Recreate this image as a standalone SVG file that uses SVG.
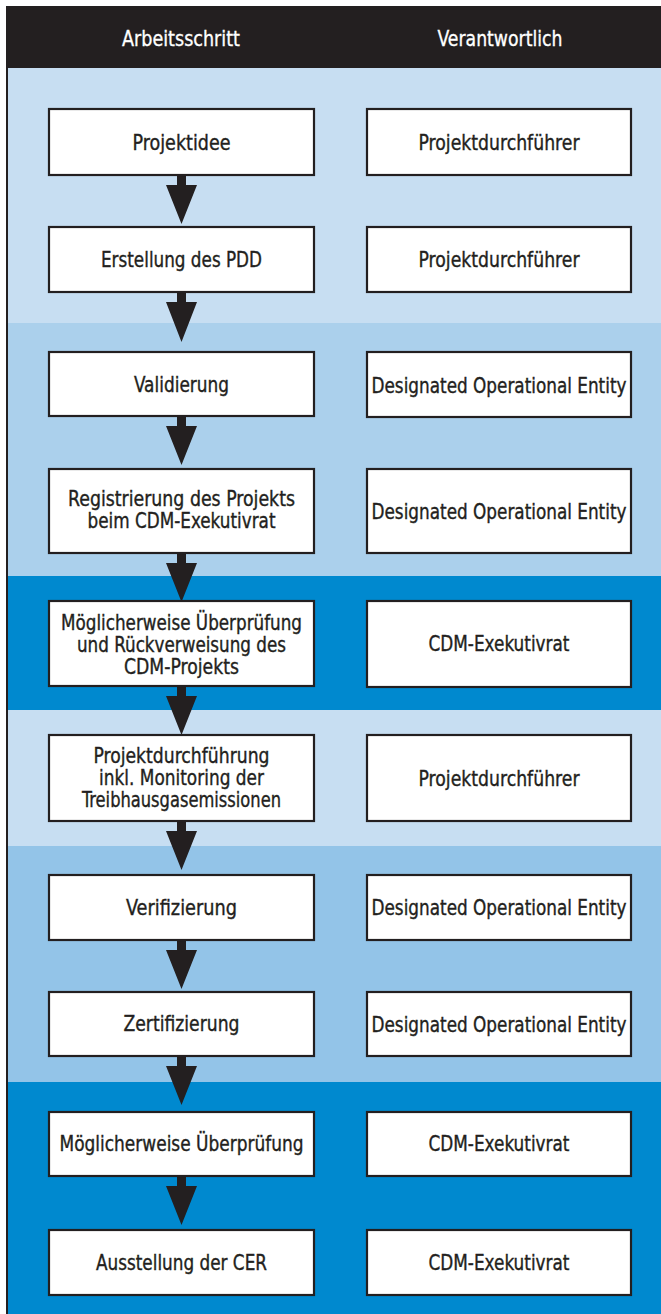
<svg xmlns="http://www.w3.org/2000/svg" width="661" height="1314" viewBox="0 0 661 1314">
  <style>
    .band-light { fill: #c7def2; }
    .band-mid { fill: #abd0ec; }
    .band-soft { fill: #93c4e8; }
    .band-dark { fill: #0089cf; }
    .box { fill: #ffffff; stroke: #231f20; stroke-width: 2.2; }
    .lbl { font-family: "Liberation Sans Narrow", "DejaVu Sans Condensed", "Liberation Sans", sans-serif; font-size: 20.5px; fill: #231f20; stroke: #231f20; stroke-width: 0.35; text-anchor: middle; }
    .head { font-family: "Liberation Sans Narrow", "DejaVu Sans Condensed", "Liberation Sans", sans-serif; font-size: 20.5px; fill: #ffffff; stroke: #ffffff; stroke-width: 0.3; text-anchor: middle; }
    .arrow { fill: #231f20; }
  </style>

  <rect x="0" y="0" width="661" height="1314" fill="#ffffff"/>

  <!-- background bands -->
  <g id="bands">
    <rect class="band-light" x="6" y="68" width="655" height="255"/>
    <rect class="band-mid" x="6" y="323" width="655" height="253"/>
    <rect class="band-dark" x="6" y="576" width="655" height="134"/>
    <rect class="band-light" x="6" y="710" width="655" height="136"/>
    <rect class="band-soft" x="6" y="846" width="655" height="236"/>
    <rect class="band-dark" x="6" y="1082" width="655" height="232"/>
    <rect x="6" y="6" width="2" height="1308" fill="#231f20"/>
  </g>

  <!-- column header -->
  <g id="header">
    <rect x="6" y="6" width="655" height="62" fill="#231f20"/>
    <text class="head" x="181" y="46" textLength="118" lengthAdjust="spacingAndGlyphs">Arbeitsschritt</text>
    <text class="head" x="500" y="46" textLength="125" lengthAdjust="spacingAndGlyphs">Verantwortlich</text>
  </g>

  <!-- flow arrows between the work steps -->
  <g id="connectors">
    <path class="arrow" d="M177,176 h9 v9 h11 l-15.5,39 l-15.5,-39 h11 z"/>
    <path class="arrow" d="M177,293 h9 v9 h11 l-15.5,40 l-15.5,-40 h11 z"/>
    <path class="arrow" d="M177,417 h9 v9 h11 l-15.5,39 l-15.5,-39 h11 z"/>
    <path class="arrow" d="M177,554 h9 v9 h11 l-15.5,39 l-15.5,-39 h11 z"/>
    <path class="arrow" d="M177,687 h9 v9 h11 l-15.5,39 l-15.5,-39 h11 z"/>
    <path class="arrow" d="M177,822 h9 v9 h11 l-15.5,39 l-15.5,-39 h11 z"/>
    <path class="arrow" d="M177,941 h9 v9 h11 l-15.5,39 l-15.5,-39 h11 z"/>
    <path class="arrow" d="M177,1057 h9 v9 h11 l-15.5,39 l-15.5,-39 h11 z"/>
    <path class="arrow" d="M177,1177 h9 v9 h11 l-15.5,39 l-15.5,-39 h11 z"/>
  </g>

  <!-- work steps (left column) -->
  <g id="step-projektidee">
    <rect class="box" x="49" y="109" width="265" height="66"/>
    <text class="lbl" x="181.5" y="150" textLength="98" lengthAdjust="spacingAndGlyphs">Projektidee</text>
  </g>
  <g id="step-pdd">
    <rect class="box" x="49" y="227" width="265" height="65"/>
    <text class="lbl" x="181.5" y="267" textLength="161" lengthAdjust="spacingAndGlyphs">Erstellung des PDD</text>
  </g>
  <g id="step-validierung">
    <rect class="box" x="49" y="352" width="265" height="64"/>
    <text class="lbl" x="181.5" y="392" textLength="95" lengthAdjust="spacingAndGlyphs">Validierung</text>
  </g>
  <g id="step-registrierung">
    <rect class="box" x="49" y="469" width="265" height="84"/>
    <text class="lbl" x="181.5" y="506" textLength="227" lengthAdjust="spacingAndGlyphs">Registrierung des Projekts</text>
    <text class="lbl" x="181.5" y="528" textLength="188" lengthAdjust="spacingAndGlyphs">beim CDM-Exekutivrat</text>
  </g>
  <g id="step-rueckverweisung">
    <rect class="box" x="49" y="601" width="265" height="85"/>
    <text class="lbl" x="181.5" y="630" textLength="241" lengthAdjust="spacingAndGlyphs">Möglicherweise Überprüfung</text>
    <text class="lbl" x="181.5" y="652" textLength="209" lengthAdjust="spacingAndGlyphs">und Rückverweisung des</text>
    <text class="lbl" x="181.5" y="674" textLength="115" lengthAdjust="spacingAndGlyphs">CDM-Projekts</text>
  </g>
  <g id="step-durchfuehrung">
    <rect class="box" x="49" y="735" width="265" height="86"/>
    <text class="lbl" x="181.5" y="763" textLength="176" lengthAdjust="spacingAndGlyphs">Projektdurchführung</text>
    <text class="lbl" x="181.5" y="785" textLength="165" lengthAdjust="spacingAndGlyphs">inkl. Monitoring der</text>
    <text class="lbl" x="181.5" y="807" textLength="199" lengthAdjust="spacingAndGlyphs">Treibhausgasemissionen</text>
  </g>
  <g id="step-verifizierung">
    <rect class="box" x="49" y="875" width="265" height="65"/>
    <text class="lbl" x="181.5" y="915" textLength="111" lengthAdjust="spacingAndGlyphs">Verifizierung</text>
  </g>
  <g id="step-zertifizierung">
    <rect class="box" x="49" y="992" width="265" height="64"/>
    <text class="lbl" x="181.5" y="1031" textLength="116" lengthAdjust="spacingAndGlyphs">Zertifizierung</text>
  </g>
  <g id="step-ueberpruefung">
    <rect class="box" x="49" y="1112" width="265" height="64"/>
    <text class="lbl" x="181.5" y="1151" textLength="244" lengthAdjust="spacingAndGlyphs">Möglicherweise Überprüfung</text>
  </g>
  <g id="step-ausstellung">
    <rect class="box" x="49" y="1230" width="265" height="65"/>
    <text class="lbl" x="181.5" y="1270" textLength="171" lengthAdjust="spacingAndGlyphs">Ausstellung der CER</text>
  </g>

  <!-- responsible parties (right column) -->
  <g id="resp-1">
    <rect class="box" x="367" y="109" width="264" height="66"/>
    <text class="lbl" x="499" y="150" textLength="161" lengthAdjust="spacingAndGlyphs">Projektdurchführer</text>
  </g>
  <g id="resp-2">
    <rect class="box" x="367" y="227" width="264" height="65"/>
    <text class="lbl" x="499" y="267" textLength="161" lengthAdjust="spacingAndGlyphs">Projektdurchführer</text>
  </g>
  <g id="resp-3">
    <rect class="box" x="367" y="352" width="264" height="65"/>
    <text class="lbl" x="499" y="392.5" textLength="255" lengthAdjust="spacingAndGlyphs">Designated Operational Entity</text>
  </g>
  <g id="resp-4">
    <rect class="box" x="367" y="469" width="264" height="84"/>
    <text class="lbl" x="499" y="519" textLength="255" lengthAdjust="spacingAndGlyphs">Designated Operational Entity</text>
  </g>
  <g id="resp-5">
    <rect class="box" x="367" y="601" width="264" height="86"/>
    <text class="lbl" x="499" y="651" textLength="141" lengthAdjust="spacingAndGlyphs">CDM-Exekutivrat</text>
  </g>
  <g id="resp-6">
    <rect class="box" x="367" y="735" width="264" height="86"/>
    <text class="lbl" x="499" y="786" textLength="161" lengthAdjust="spacingAndGlyphs">Projektdurchführer</text>
  </g>
  <g id="resp-7">
    <rect class="box" x="367" y="875" width="264" height="65"/>
    <text class="lbl" x="499" y="915" textLength="255" lengthAdjust="spacingAndGlyphs">Designated Operational Entity</text>
  </g>
  <g id="resp-8">
    <rect class="box" x="367" y="992" width="264" height="64"/>
    <text class="lbl" x="499" y="1032" textLength="255" lengthAdjust="spacingAndGlyphs">Designated Operational Entity</text>
  </g>
  <g id="resp-9">
    <rect class="box" x="367" y="1112" width="264" height="64"/>
    <text class="lbl" x="499" y="1151" textLength="141" lengthAdjust="spacingAndGlyphs">CDM-Exekutivrat</text>
  </g>
  <g id="resp-10">
    <rect class="box" x="367" y="1230" width="264" height="65"/>
    <text class="lbl" x="499" y="1270" textLength="141" lengthAdjust="spacingAndGlyphs">CDM-Exekutivrat</text>
  </g>
</svg>
